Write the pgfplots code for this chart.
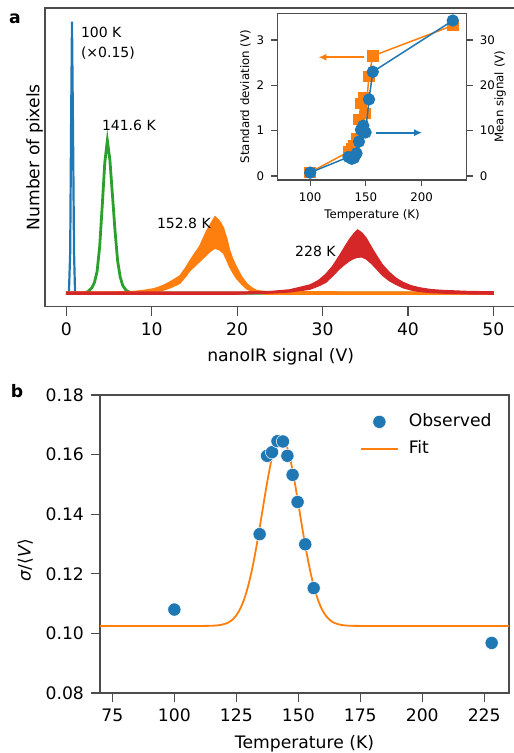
\documentclass[border=0pt]{standalone}
\usepackage{fontspec}
\setmainfont{DejaVu Sans}
\usepackage{pgfplots}
\pgfplotsset{compat=1.18}
\usetikzlibrary{arrows.meta}

\definecolor{mblue}{HTML}{1F77B4}
\definecolor{morange}{HTML}{FF7F0E}
\definecolor{mgreen}{HTML}{2CA02C}
\definecolor{mred}{HTML}{D62728}
\definecolor{spine}{gray}{0.3}

\newcommand\fmain{\fontsize{8.6}{10.3}\selectfont}
\newcommand\fann{\fontsize{7}{8.4}\selectfont}
\newcommand\fins{\fontsize{5.9}{7}\selectfont}

\pgfplotsset{
  base/.style={scale only axis, anchor=south west,
    axis line style={spine, line width=0.6pt},
    tick style={spine, line width=0.6pt},
    tick align=outside,
    /pgf/number format/assume math mode=true},
}

\begin{document}
\begin{tikzpicture}

% ---------- panel a: histograms ----------
\begin{axis}[base, at={(22.5pt,-153.35pt)}, width=235.7pt, height=149.35pt,
  xmin=-2.5, xmax=52.7, ymin=-0.05, ymax=1.05,
  ytick=\empty, xtick={0,10,20,30,40,50}, xtick pos=left,
  major tick length=4.5pt,
  tick label style={font=\fmain}, label style={font=\fmain},
  xlabel={nanoIR signal (V)}, ylabel={Number of pixels},
  xlabel style={at={(axis description cs:0.5,-0.167)}, anchor=center},
  ylabel style={at={(axis description cs:-0.022,0.5)}, anchor=center},
]
% 100 K (scaled x0.15)
\addplot[mblue, line width=1.1pt] coordinates {
  (0,0) (0.30,0) (0.45,0.15) (0.55,0.6) (0.66,1.0) (0.78,0.6) (0.90,0.15) (1.02,0) (50,0)};
% 141.6 K
\addplot[mgreen, line width=1.4pt] coordinates {
  (0,0) (2.0,0) (2.5,0.005) (3.0,0.020) (3.3,0.040) (3.6,0.080) (3.9,0.170)
  (4.2,0.320) (4.5,0.480) (4.8,0.562) (5.1,0.490) (5.4,0.360) (5.7,0.230)
  (6.0,0.120) (6.3,0.060) (6.6,0.028) (7.0,0.010) (7.6,0) (50,0)};
% 152.8 K (noisy band: upper edge, then lower edge back)
\addplot[morange, fill=morange, line width=0.6pt] coordinates {
  (0,0.004) (5,0.004) (7.8,0.006) (9,0.010) (10.2,0.016) (11.0,0.024) (11.7,0.034)
  (12.5,0.048) (13.3,0.064) (14.0,0.095) (14.4,0.116) (15.0,0.145) (15.6,0.172)
  (16.0,0.200) (16.4,0.228) (16.9,0.255) (17.4,0.282) (17.8,0.270) (18.1,0.258)
  (18.4,0.240) (18.8,0.200) (19.1,0.160) (19.5,0.125) (19.9,0.098) (20.5,0.062)
  (21.1,0.036) (21.7,0.020) (22.3,0.010) (23.4,0.005) (50,0.004)
  (50,-0.004) (23.4,-0.004) (22.3,0.000) (21.7,0.006) (21.1,0.016) (20.5,0.034)
  (19.9,0.055) (19.5,0.075) (19.1,0.098) (18.8,0.120) (18.4,0.147) (17.9,0.160)
  (17.4,0.165) (16.9,0.155) (16.4,0.140) (16.0,0.128) (15.6,0.116) (15.0,0.098)
  (14.4,0.080) (14.0,0.062) (13.3,0.036) (12.5,0.024) (11.7,0.014) (11.0,0.008)
  (10.2,0.004) (9,0.000) (7.8,-0.002) (5,-0.004) (0,-0.004)} -- cycle;
% 228 K
\addplot[mred, fill=mred, line width=0.6pt] coordinates {
  (0,0.004) (20,0.004) (23.8,0.006) (26.1,0.012) (28.5,0.030) (29.5,0.046)
  (30.4,0.070) (31.2,0.100) (32.0,0.139) (32.6,0.170) (33.2,0.200) (33.7,0.220)
  (34.1,0.233) (34.6,0.222) (35.1,0.203) (35.7,0.170) (36.3,0.139) (37.0,0.105)
  (37.8,0.077) (38.6,0.055) (39.4,0.040) (40.3,0.028) (41.3,0.020) (42.7,0.013)
  (44.1,0.010) (47.2,0.006) (50,0.005)
  (50,-0.004) (47.2,-0.003) (44.1,0.000) (42.7,0.002) (41.3,0.006) (40.3,0.012)
  (39.4,0.020) (38.6,0.032) (37.8,0.046) (37.0,0.066) (36.3,0.090) (35.7,0.110)
  (35.1,0.126) (34.6,0.133) (34.1,0.132) (33.7,0.128) (33.2,0.120) (32.6,0.106)
  (32.0,0.090) (31.2,0.064) (30.4,0.040) (29.5,0.026) (28.5,0.014) (26.1,0.004)
  (23.8,0.000) (20,-0.004) (0,-0.004)} -- cycle;

\node[font=\fann, anchor=west, inner sep=0pt] at (axis cs:1.67,0.959) {100 K};
\node[font=\fann, anchor=west, inner sep=0pt] at (axis cs:1.67,0.885) {(×0.15)};
\node[font=\fann, anchor=west, inner sep=0pt] at (axis cs:4.13,0.616) {141.6 K};
\node[font=\fann, anchor=west, inner sep=0pt] at (axis cs:10.57,0.255) {152.8 K};
\node[font=\fann, anchor=west, inner sep=0pt] at (axis cs:26.75,0.153) {228 K};
\end{axis}

% ---------- inset: standard deviation (left axis) ----------
\begin{axis}[base, at={(138.65pt,-90pt)}, width=94.7pt, height=83.35pt,
  axis background/.style={fill=white},
  xmin=70.5, xmax=240.5, ymin=-0.088, ymax=3.59,
  xtick={100,150,200}, ytick={0,1,2,3}, xtick pos=left, ytick pos=left,
  major tick length=3pt,
  tick label style={font=\fins}, label style={font=\fins},
  xlabel={Temperature (K)}, ylabel={Standard deviation (V)},
  xlabel style={at={(axis description cs:0.5,-0.214)}, anchor=center},
  ylabel style={at={(axis description cs:-0.169,0.5)}, anchor=center},
]
\addplot[morange, line width=0.75pt, mark=square*, mark size=2.5pt] coordinates {
  (100,0.081) (134.4,0.533) (137.4,0.606) (139.4,0.66) (141.6,0.82) (143.8,1.25)
  (145.6,1.60) (147.7,1.72) (149.7,1.38) (152.8,2.20) (156.2,2.65) (228,3.32)};
\draw[morange, line width=1pt, -{Latex[length=4pt,width=3.6pt]}]
  (axis cs:148.3,2.62) -- (axis cs:107.4,2.62);
\end{axis}

% ---------- inset: mean signal (right axis) ----------
\begin{axis}[base, at={(138.65pt,-90pt)}, width=94.7pt, height=83.35pt,
  xmin=70.5, xmax=240.5, ymin=-0.88, ymax=35.9,
  axis x line=none, axis y line*=right,
  ytick={0,10,20,30},
  major tick length=3pt,
  tick label style={font=\fins}, label style={font=\fins},
  ylabel={Mean signal (V)},
  ylabel style={at={(axis description cs:1.176,0.5)}, anchor=center},
]
\addplot[mblue, line width=0.75pt, mark=*, mark size=2.7pt] coordinates {
  (100,0.75) (134.4,4.2) (137.4,3.8) (139.4,4.0) (141.6,5.0) (143.8,7.6)
  (145.6,10.2) (147.7,11.1) (149.7,9.6) (152.8,16.9) (156.2,23.0) (228,34.3)};
\draw[mblue, line width=1pt, -{Latex[length=4pt,width=3.6pt]}]
  (axis cs:159.1,9.56) -- (axis cs:200.5,9.56);
\end{axis}

% ---------- panel b: relative width ----------
\begin{axis}[base, at={(50pt,-346.5pt)}, width=204.5pt, height=149pt,
  xmin=70, xmax=235, ymin=0.08, ymax=0.18,
  xtick={75,100,125,150,175,200,225}, ytick={0.08,0.10,0.12,0.14,0.16,0.18},
  xtick pos=left, ytick pos=left, major tick length=4.5pt,
  yticklabel style={/pgf/number format/fixed, /pgf/number format/fixed zerofill,
    /pgf/number format/precision=2},
  tick label style={font=\fmain}, label style={font=\fmain},
  xlabel={Temperature (K)}, ylabel={\textit{σ}/⟨\textit{V}⟩},
  xlabel style={at={(axis description cs:0.5,-0.171)}, anchor=center},
  ylabel style={at={(axis description cs:-0.183,0.446)}, anchor=center},
  legend style={draw=none, fill=none, font=\fmain, at={(axis description cs:0.62,0.965)},
    anchor=north west, row sep=1.5pt, column sep=3pt},
  legend cell align=left,
  legend image code/.code={\draw[mark repeat=2, mark phase=2, #1]
    plot coordinates {(0pt,0pt) (9.25pt,0pt) (18.5pt,0pt)};},
]
\addplot[morange, line width=0.9pt, forget plot] coordinates {
  (70,0.10250) (113,0.10252) (115,0.10256) (117,0.10266) (119,0.10288) (121,0.10336)
  (122,0.10376) (123,0.10431) (124,0.10507) (125,0.10606) (126,0.10736) (127,0.10902)
  (128,0.11109) (129,0.11362) (130,0.11664) (131,0.12016) (132,0.12416) (133,0.12861)
  (134,0.13341) (135,0.13845) (136,0.14358) (137,0.14861) (138,0.15335) (139,0.15758)
  (140,0.16112) (141,0.16378) (142,0.16544) (143,0.16600) (144,0.16544) (145,0.16378)
  (146,0.16112) (147,0.15758) (148,0.15335) (149,0.14861) (150,0.14358) (151,0.13845)
  (152,0.13341) (153,0.12861) (154,0.12416) (155,0.12016) (156,0.11664) (157,0.11362)
  (158,0.11109) (159,0.10902) (160,0.10736) (161,0.10606) (162,0.10507) (163,0.10431)
  (164,0.10376) (165,0.10336) (167,0.10288) (169,0.10266) (171,0.10256) (173,0.10252)
  (235,0.10250)};
\addplot[only marks, mark=*, mark size=3.3pt, mblue,
  mark options={fill=mblue, draw=white, line width=0.25pt}] coordinates {
  (100,0.1080) (134.4,0.1333) (137.4,0.1596) (139.4,0.1608) (141.6,0.1645)
  (143.8,0.1644) (145.6,0.1596) (147.7,0.1532) (149.7,0.1441) (152.8,0.1299)
  (156.2,0.1152) (228,0.0968)};
\addlegendentry{Observed}
\addlegendimage{morange, line width=0.9pt}
\addlegendentry{Fit}
\end{axis}

\node[font=\bfseries\fmain, anchor=base] at (7.5pt,-12pt) {a};
\node[font=\bfseries\fmain, anchor=base] at (8.5pt,-198.5pt) {b};

\pgfresetboundingbox
\path[use as bounding box] (0pt,0pt) rectangle (256.5pt,-376.5pt);
\end{tikzpicture}
\end{document}
